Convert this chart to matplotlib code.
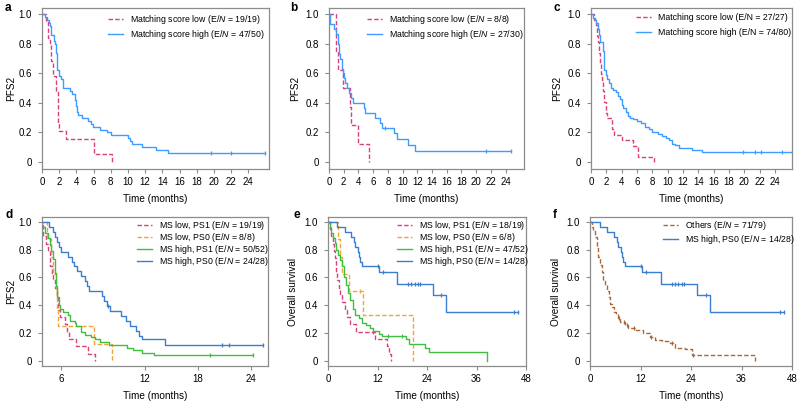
import numpy as np
import matplotlib
matplotlib.use("Agg")
import matplotlib.pyplot as plt

plt.rcParams['font.family'] = ['Liberation Sans', 'DejaVu Sans']
plt.rcParams['mathtext.fontset'] = 'custom'
plt.rcParams['mathtext.it'] = 'Liberation Sans:italic'
plt.rcParams['mathtext.rm'] = 'Liberation Sans'

# ---- data (months, survival) ----
# panel a: PFS2, matching score low / high
a_low_t = [0, 0.5, 0.7, 0.9, 1.1, 1.3, 1.6, 1.9, 2.0, 2.8, 6.0, 8.1]
a_low_s = [1, 0.947, 0.842, 0.789, 0.684, 0.579, 0.474, 0.263, 0.211, 0.158, 0.053, 0]
a_high_t = [0, 0.35, 0.55, 0.8, 0.95, 1.1, 1.35, 1.5, 1.6, 1.7, 1.8, 2.0, 2.2, 2.5, 3.3, 3.5,
            3.8, 4.0, 4.1, 4.2, 4.6, 5.4, 5.7, 5.9, 6.7, 7.6, 8.0, 10.0, 10.2, 10.5, 11.6, 13.3, 14.6]
a_high_s = [1, 0.98, 0.96, 0.94, 0.92, 0.86, 0.82, 0.80, 0.74, 0.68, 0.62, 0.58, 0.56, 0.50, 0.48, 0.46,
            0.42, 0.38, 0.34, 0.32, 0.30, 0.28, 0.26, 0.24, 0.22, 0.20, 0.18, 0.16, 0.14, 0.12, 0.10, 0.08, 0.06]
a_high_end = 25.9
a_high_cens = [19.6, 22.0, 25.9]

# panel b
b_low_t = [0, 1.0, 1.2, 1.95, 2.85, 3.05, 3.9, 5.45]
b_low_s = [1, 0.75, 0.625, 0.5, 0.375, 0.25, 0.125, 0]
b_high_t = [0, 0.2, 0.7, 0.9, 1.2, 1.35, 1.5, 1.7, 1.85, 2.0, 2.2, 2.4, 2.7, 3.0, 3.2, 4.7, 4.9,
            6.25, 6.9, 7.15, 8.9, 9.2, 10.8, 11.7]
b_high_s = [1, 0.933, 0.9, 0.867, 0.8, 0.733, 0.7, 0.633, 0.6, 0.567, 0.533, 0.5, 0.467, 0.433, 0.4,
            0.367, 0.333, 0.3, 0.267, 0.233, 0.194, 0.155, 0.116, 0.078]
b_high_end = 24.8
b_high_cens = [7.6, 21.3, 24.8]

# panel c
c_low_t = [0, 0.4, 0.6, 0.75, 0.9, 1.05, 1.2, 1.3, 1.45, 1.6, 1.75, 1.9, 2.05, 2.8, 3.0, 4.0, 5.5, 6.1, 8.2]
c_low_s = [1, 0.963, 0.926, 0.852, 0.815, 0.741, 0.667, 0.593, 0.556, 0.481, 0.407, 0.333, 0.296,
           0.222, 0.185, 0.148, 0.111, 0.037, 0]
c_high_t = [0, 0.3, 0.5, 0.7, 0.85, 1.0, 1.15, 1.55, 1.65, 1.75, 1.9, 2.1, 2.3, 2.6, 2.9, 3.2, 3.5,
            3.8, 4.0, 4.2, 4.5, 4.8, 5.1, 5.5, 6.0, 6.5, 7.0, 7.5, 8.0, 8.7, 9.3, 9.8, 10.2, 10.5,
            11.0, 11.5, 13.2, 14.5]
c_high_s = [1, 0.975, 0.963, 0.938, 0.9, 0.863, 0.813, 0.75, 0.688, 0.625, 0.588, 0.563, 0.538, 0.5,
            0.488, 0.475, 0.45, 0.425, 0.388, 0.363, 0.338, 0.313, 0.3, 0.288, 0.275, 0.263, 0.238,
            0.225, 0.2, 0.188, 0.175, 0.163, 0.15, 0.125, 0.113, 0.094, 0.082, 0.07]
c_high_end = 26.2
c_high_cens = [19.8, 21.4, 22.2, 24.9, 26.2]

# panel d: PFS2 by MS and PS
d_lowps1_t = [0, 0.5, 0.8, 1.0, 1.3, 1.45, 1.6, 1.85, 2.0, 2.2, 2.4, 3.0, 3.2, 3.4, 4.2, 5.55, 6.3]
d_lowps1_s = [1, 0.895, 0.842, 0.789, 0.684, 0.632, 0.579, 0.526, 0.474, 0.368, 0.316, 0.263,
              0.211, 0.158, 0.105, 0.053, 0]
d_lowps0_t = [0, 0.9, 1.4, 1.6, 1.9, 2.05, 2.2, 6.2, 8.25]
d_lowps0_s = [1, 0.875, 0.75, 0.625, 0.5, 0.375, 0.25, 0.125, 0]
d_highps1_t = [0, 0.4, 0.7, 1.0, 1.2, 1.4, 1.6, 1.8, 1.95, 2.1, 2.25, 2.4, 2.75, 3.3, 3.55, 4.05,
               4.25, 4.8, 5.2, 5.9, 6.3, 6.9, 7.9, 10.0, 10.6, 11.6, 13.0]
d_highps1_s = [1, 0.96, 0.92, 0.88, 0.83, 0.79, 0.73, 0.63, 0.54, 0.46, 0.40, 0.37, 0.35, 0.33,
               0.29, 0.27, 0.25, 0.21, 0.19, 0.17, 0.155, 0.135, 0.115, 0.096, 0.077, 0.058, 0.04]
d_highps1_end = 24.2
d_highps1_cens = [19.3, 24.2]
d_highps0_t = [0, 1.15, 1.6, 1.8, 2.05, 2.3, 2.55, 3.3, 3.7, 3.95, 4.3, 4.8, 5.2, 5.45, 5.65, 7.1,
               7.4, 7.7, 8.0, 9.3, 9.8, 10.25, 11.0, 11.3, 11.65, 14.25]
d_highps0_s = [1, 0.964, 0.929, 0.893, 0.857, 0.821, 0.786, 0.75, 0.714, 0.679, 0.643, 0.607, 0.571,
               0.536, 0.5, 0.464, 0.429, 0.393, 0.357, 0.321, 0.286, 0.25, 0.214, 0.179, 0.156, 0.117]
d_highps0_end = 25.35
d_highps0_cens = [7.8, 20.7, 21.5, 25.35]

# panel e: overall survival by MS and PS
e_lowps1_t = [0, 0.4, 0.7, 1.2, 1.4, 1.75, 1.85, 2.0, 2.2, 2.55, 2.9, 3.35, 4.15, 4.65, 5.45, 6.8,
              11.5, 14.2, 14.8, 15.2]
e_lowps1_s = [1, 0.947, 0.895, 0.842, 0.789, 0.737, 0.684, 0.632, 0.579, 0.526, 0.474, 0.421, 0.368,
              0.316, 0.263, 0.211, 0.158, 0.105, 0.053, 0]
e_lowps1_cens = [10.8]
e_lowps0_t = [0, 2.4, 2.9, 3.5, 5.2, 8.4, 20.5]
e_lowps0_s = [1, 0.875, 0.75, 0.625, 0.5, 0.333, 0]
e_lowps0_cens = [7.8]
e_highps1_t = [0, 0.4, 0.8, 1.2, 1.6, 2.0, 2.5, 3.0, 3.4, 3.8, 4.4, 4.8, 5.4, 6.0, 6.6, 7.6, 8.2,
               9.2, 10.2, 11.0, 12.4, 13.0, 18.8, 19.6, 23.6, 24.4, 38.6]
e_highps1_s = [1, 0.96, 0.92, 0.88, 0.845, 0.8, 0.76, 0.725, 0.68, 0.6, 0.545, 0.485, 0.44, 0.37,
               0.33, 0.31, 0.275, 0.26, 0.235, 0.215, 0.195, 0.178, 0.155, 0.124, 0.093, 0.062, 0]
e_highps1_cens = [14.6, 18.0]
# MS high, PS0 overall survival (same cohort in e and f)
os_highps0_t = [0, 2.3, 4.0, 5.6, 6.3, 6.6, 7.35, 7.6, 7.8, 8.2, 12.4, 16.8, 25.4, 28.6]
os_highps0_s = [1, 0.964, 0.929, 0.893, 0.857, 0.821, 0.786, 0.75, 0.714, 0.679, 0.636, 0.551,
                0.472, 0.354]
os_highps0_end = 46.0
os_highps0_cens = [12.0, 13.3, 19.4, 20.2, 21.0, 21.8, 22.4, 27.5, 45.2, 46.0]

# panel f: others
f_others_t = [0, 0.4, 0.8, 1.2, 1.6, 2.0, 2.4, 2.8, 3.2, 3.6, 4.0, 4.4, 4.8, 5.2, 5.6, 6.1, 6.6,
              7.1, 8.3, 9.1, 10.7, 12.7, 14.3, 15.5, 17.1, 19.0, 19.8, 20.2, 22.6, 24.2, 39.1]
f_others_s = [1, 0.96, 0.93, 0.89, 0.82, 0.75, 0.69, 0.64, 0.58, 0.545, 0.5, 0.46, 0.41, 0.385,
              0.35, 0.34, 0.31, 0.28, 0.26, 0.24, 0.22, 0.2, 0.175, 0.15, 0.14, 0.13, 0.12, 0.09,
              0.085, 0.043, 0]
f_others_cens = [7.0, 8.0, 8.8, 10.5, 14.5, 19.5, 24.5]

PINK = '#d9407c'
LBLUE = '#3f9bff'
BLUE = '#3b7dcf'
GREEN = '#3fbf3f'
ORANGE = '#f7a235'
BROWN = '#a8683a'
FRAME = '#8c8c8c'
DASH = (0, (3.2, 1.6))

W, H = 800, 404
fig = plt.figure(figsize=(W / 100, H / 100), dpi=100)


def make_ax(l, r, t, b):
    return fig.add_axes([l / W, 1 - b / H, (r - l) / W, (b - t) / H])


def km(ax, t, s, color, ls='-', label=None, end=None, cens=()):
    t = list(t)
    s = list(s)
    if end is not None and end > t[-1]:
        t.append(end)
        s.append(s[-1])
    ax.step(t, s, where='post', color=color, ls=ls, lw=1.0, label=label)
    if len(cens):
        idx = np.searchsorted(np.array(t), np.array(cens), side='right') - 1
        ax.plot(cens, np.array(s)[idx], ls='none', marker='|', ms=3.5, mew=0.9, color=color)


def style(ax, xlim, xticks, ylabel, ylim, xticklabels=None, ypad=4):
    ax.set_xlim(*xlim)
    ax.set_ylim(*ylim)
    ax.set_xticks(xticks)
    if xticklabels is not None:
        ax.set_xticklabels(xticklabels)
    ax.set_yticks([0, 0.2, 0.4, 0.6, 0.8, 1.0])
    ax.set_yticklabels(['0', '0.2', '0.4', '0.6', '0.8', '1.0'])
    for sp in ax.spines.values():
        sp.set_color(FRAME)
        sp.set_linewidth(0.9)
    ax.tick_params(direction='out', length=3, width=0.8, color=FRAME, labelsize=7)
    ax.tick_params(axis='x', pad=3)
    ax.tick_params(axis='y', pad=4.3)
    ax.set_xlabel('Time (months)', fontsize=7.2, labelpad=5)
    ax.set_ylabel(ylabel, fontsize=7.2, labelpad=ypad)


def legend(ax, x, y, spacing):
    ax.legend(loc='upper left', bbox_to_anchor=(x / W, 1 - y / H), bbox_transform=fig.transFigure,
              frameon=False, fontsize=6.3, borderpad=0, borderaxespad=0, handlelength=1.7,
              handletextpad=0.8, labelspacing=spacing)


EN = r'E/$\mathit{N}$'
top_ylim = (-0.047, 1.039)
bot_ylim = (-0.036, 1.034)

# a
ax = make_ax(42, 269, 8.5, 169)
km(ax, a_low_t, a_low_s, PINK, DASH, 'Matching score low (%s = 19/19)' % EN)
km(ax, a_high_t, a_high_s, LBLUE, '-', 'Matching score high (%s = 47/50)' % EN, a_high_end, a_high_cens)
style(ax, (0, 26.4), range(0, 25, 2), 'PFS2', top_ylim, ypad=1.5)
legend(ax, 108, 13, 0.2)

# b
ax = make_ax(329, 524, 8.5, 169)
km(ax, b_low_t, b_low_s, PINK, DASH, 'Matching score low (%s = 8/8)' % EN)
km(ax, b_high_t, b_high_s, LBLUE, '-', 'Matching score high (%s = 27/30)' % EN, b_high_end, b_high_cens)
style(ax, (0, 26.5), range(0, 25, 2), 'PFS2', top_ylim, ypad=3.5)
legend(ax, 367, 13, 0.2)

# c
ax = make_ax(591, 792, 8.5, 169)
km(ax, c_low_t, c_low_s, PINK, DASH, 'Matching score low (E/N = 27/27)')
km(ax, c_high_t, c_high_s, LBLUE, '-', 'Matching score high (E/N = 74/80)', c_high_end, c_high_cens)
style(ax, (0, 26.2), range(0, 25, 2), 'PFS2', top_ylim, ypad=4)
legend(ax, 636, 13, 0.68)

# d
ax = make_ax(42, 268, 217, 366)
km(ax, d_lowps1_t, d_lowps1_s, PINK, DASH, 'MS low, PS1 (%s = 19/19)' % EN)
km(ax, d_lowps0_t, d_lowps0_s, ORANGE, DASH, 'MS low, PS0 (%s = 8/8)' % EN)
km(ax, d_highps1_t, d_highps1_s, GREEN, '-', 'MS high, PS1 (%s = 50/52)' % EN, d_highps1_end, d_highps1_cens)
km(ax, d_highps0_t, d_highps0_s, BLUE, '-', 'MS high, PS0 (%s = 24/28)' % EN, d_highps0_end, d_highps0_cens)
style(ax, (0.35, 25.9), [2.5, 12, 18, 24], 'PFS2', bot_ylim, ['6', '12', '18', '24'], ypad=1.5)
legend(ax, 137, 219, -0.12)

# e
ax = make_ax(328, 526, 217, 366)
km(ax, e_lowps1_t, e_lowps1_s, PINK, DASH, 'MS low, PS1 (%s = 18/19)' % EN, None, e_lowps1_cens)
km(ax, e_lowps0_t, e_lowps0_s, ORANGE, DASH, 'MS low, PS0 (%s = 6/8)' % EN, None, e_lowps0_cens)
km(ax, e_highps1_t, e_highps1_s, GREEN, '-', 'MS high, PS1 (%s = 47/52)' % EN, None, e_highps1_cens)
km(ax, os_highps0_t, os_highps0_s, BLUE, '-', 'MS high, PS0 (%s = 14/28)' % EN, os_highps0_end, os_highps0_cens)
style(ax, (0, 48), [0, 12, 24, 36, 48], 'Overall survival', bot_ylim, ypad=4.5)
legend(ax, 397, 219, -0.12)

# f
ax = make_ax(590, 792, 217, 366)
km(ax, f_others_t, f_others_s, BROWN, DASH, 'Others (%s = 71/79)' % EN, None, f_others_cens)
km(ax, os_highps0_t, os_highps0_s, BLUE, '-', 'MS high, PS0 (%s = 14/28)' % EN, os_highps0_end, os_highps0_cens)
style(ax, (0, 48), [0, 12, 24, 36, 48], 'Overall survival', bot_ylim, ypad=4)
legend(ax, 663, 219, 0.1)

# panel letters
for letter, x, y in [('a', 5, 8), ('b', 290, 8), ('c', 553, 8), ('d', 5, 215), ('e', 293, 215), ('f', 553, 215)]:
    fig.text(x / W, 1 - y / H, letter, fontsize=8.5, fontweight='bold', va='center', ha='left')

fig.savefig('out.png', dpi=100)
